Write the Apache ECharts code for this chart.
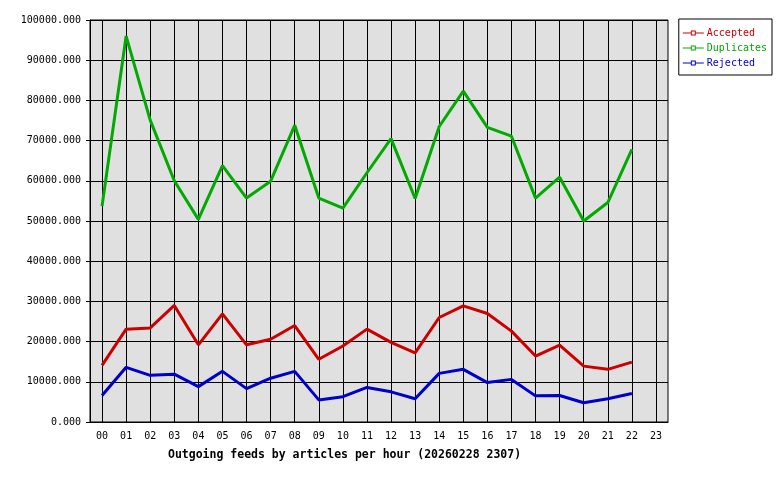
<!DOCTYPE html>
<html>
<head>
<meta charset="utf-8">
<script src="https://cdn.jsdelivr.net/npm/echarts@6/dist/echarts.min.js"></script>
<style>html,body{margin:0;padding:0;background:#fff;}#c{width:780px;height:480px;}</style>
</head>
<body>
<div id="c"></div>
<script>
const hours = ['00','01','02','03','04','05','06','07','08','09','10','11','12','13','14','15','16','17','18','19','20','21','22','23'];
const accepted = [14100,23100,23400,29000,19200,26900,19200,20600,24000,15600,18900,23100,19800,17200,26000,28900,27000,22600,16400,19100,13900,13100,14900];
const duplicates = [53700,96000,75100,60000,50400,63800,55700,59900,73800,55700,53200,62000,70500,55600,73500,82300,73300,71100,55700,60900,50000,54600,67800];
const rejected = [6600,13600,11600,11900,8800,12600,8300,10900,12600,5500,6300,8600,7500,5800,12100,13100,9800,10600,6500,6600,4800,5800,7100];
const titleText = 'Outgoing feeds by articles per hour (20260228 2307)';
const FONT = '"DejaVu Sans Mono", "Liberation Mono", monospace';
const LEGEND_ICON = 'path://M0,2 L8,2 L8,3 L0,3 Z M13,2 L21,2 L21,3 L13,3 Z M8,0 L13,0 L13,5 L8,5 Z M9,1 L9,4 L12,4 L12,1 Z';

const chart = echarts.init(document.getElementById('c'), null, {renderer: 'canvas'});
function mk(name, data, color) {
  return {
    name: name, type: 'line', data: data,
    symbol: 'none', showSymbol: false,
    lineStyle: {color: color, width: 3},
    itemStyle: {color: color},
    animation: false, silent: true
  };
}
chart.setOption({
  animation: false,
  backgroundColor: '#ffffff',
  title: {
    text: titleText, left: 163, top: 444,
    textStyle: {fontFamily: FONT, fontSize: 11.5, fontWeight: 'bold', color: '#000'}
  },
  grid: {
    left: 90, right: 112, top: 20, bottom: 58,
    show: true, backgroundColor: '#e0e0e0', borderColor: '#000', borderWidth: 1
  },
  legend: {
    right: 8, top: 19, orient: 'vertical', align: 'left',
    padding: [8, 5, 6, 4], itemGap: 3, itemWidth: 21, itemHeight: 5,
    borderColor: '#000', borderWidth: 1, backgroundColor: '#fff',
    icon: LEGEND_ICON,
    textStyle: {fontFamily: FONT, fontSize: 10, lineHeight: 12, padding: [0, 0, 0, -2]},
    data: [
      {name: 'Accepted', textStyle: {color: '#cc0000'}},
      {name: 'Duplicates', textStyle: {color: '#00aa00'}},
      {name: 'Rejected', textStyle: {color: '#0000cc'}}
    ]
  },
  xAxis: {
    type: 'category', data: hours, boundaryGap: true,
    axisLine: {show: true, lineStyle: {color: '#000'}},
    axisTick: {show: false, alignWithLabel: true},
    axisLabel: {fontFamily: FONT, fontSize: 10, color: '#000', margin: 9, interval: 0},
    splitLine: {show: true, alignWithLabel: true, interval: 0, lineStyle: {color: '#000', width: 1}}
  },
  yAxis: {
    type: 'value', min: 0, max: 100000, interval: 10000,
    axisLine: {show: true, lineStyle: {color: '#000'}},
    axisTick: {show: true, length: 4, lineStyle: {color: '#000'}},
    axisLabel: {fontFamily: FONT, fontSize: 10, color: '#000', margin: 9,
      formatter: v => v.toFixed(3)},
    splitLine: {show: true, lineStyle: {color: '#000', width: 1}}
  },
  series: [
    mk('Accepted', accepted, '#cc0000'),
    mk('Duplicates', duplicates, '#00aa00'),
    mk('Rejected', rejected, '#0000cc')
  ]
});
</script>
</body>
</html>
